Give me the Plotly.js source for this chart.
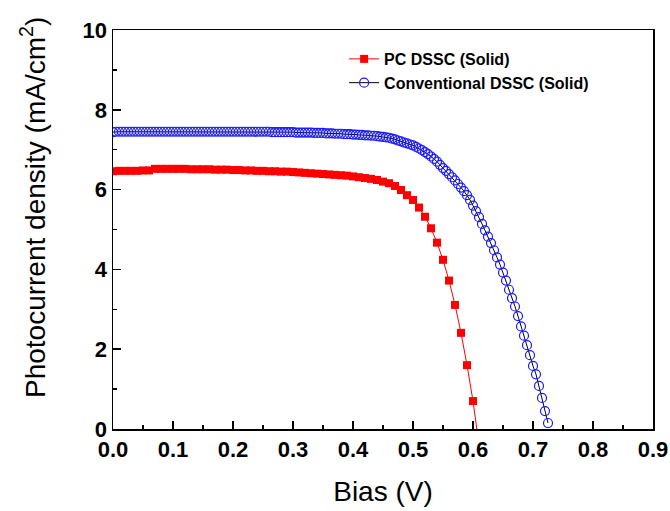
<!DOCTYPE html>
<html>
<head>
<meta charset="utf-8">
<script src="https://cdn.plot.ly/plotly-3.0.1.min.js"></script>
<style>html,body{margin:0;padding:0;background:#fff;}#chart{width:670px;height:511px;}</style>
</head>
<body>
<div id="chart"></div>
<script>
// PC DSSC (Solid): bias (V) and photocurrent density (mA/cm^2)
const pcBias = [0.00,0.01,0.02,0.03,0.04,0.05,0.06,0.07,0.08,0.09,
  0.10,0.11,0.12,0.13,0.14,0.15,0.16,0.17,0.18,0.19,
  0.20,0.21,0.22,0.23,0.24,0.25,0.26,0.27,0.28,0.29,
  0.30,0.31,0.32,0.33,0.34,0.35,0.36,0.37,0.38,0.39,
  0.40,0.41,0.42,0.43,0.44,0.45,0.46,0.47,0.48,0.49,
  0.50,0.51,0.52,0.53,0.54,0.55,0.56,0.57,0.58,0.59,
  0.60,0.61];
const pcCurrent = [6.46,6.47,6.47,6.47,6.47,6.48,6.48,6.52,6.52,6.52,
  6.52,6.52,6.52,6.51,6.51,6.51,6.51,6.50,6.50,6.50,
  6.49,6.49,6.48,6.48,6.47,6.47,6.46,6.46,6.45,6.45,
  6.44,6.43,6.42,6.41,6.40,6.39,6.38,6.37,6.36,6.35,
  6.33,6.31,6.29,6.27,6.24,6.20,6.16,6.09,5.99,5.86,
  5.74,5.55,5.32,5.03,4.67,4.24,3.72,3.11,2.41,1.60,
  0.70,-0.40];

// Conventional DSSC (Solid)
const convBias = [0.000,0.005,0.010,0.015,0.020,0.025,0.030,0.035,0.040,0.045,
  0.050,0.055,0.060,0.065,0.070,0.075,0.080,0.085,0.090,0.095,
  0.100,0.105,0.110,0.115,0.120,0.125,0.130,0.135,0.140,0.145,
  0.150,0.155,0.160,0.165,0.170,0.175,0.180,0.185,0.190,0.195,
  0.200,0.205,0.210,0.215,0.220,0.225,0.230,0.235,0.240,0.245,
  0.250,0.255,0.260,0.265,0.270,0.275,0.280,0.285,0.290,0.295,
  0.300,0.305,0.310,0.315,0.320,0.325,0.330,0.335,0.340,0.345,
  0.350,0.355,0.360,0.365,0.370,0.375,0.380,0.385,0.390,0.395,
  0.400,0.405,0.410,0.415,0.420,0.425,0.430,0.435,0.440,0.445,
  0.450,0.455,0.460,0.465,0.470,0.475,0.480,0.485,0.490,0.495,
  0.500,0.505,0.510,0.515,0.520,0.525,0.530,0.535,0.540,0.545,
  0.550,0.555,0.560,0.565,0.570,0.575,0.580,0.585,0.590,0.595,
  0.600,0.605,0.610,0.615,0.620,0.625,0.630,0.635,0.640,0.645,
  0.650,0.655,0.660,0.665,0.670,0.675,0.680,0.685,0.690,0.695,
  0.700,0.705,0.710,0.715,0.720,0.725];
const convCurrent = [7.44,7.45,7.45,7.45,7.45,7.45,7.45,7.45,7.45,7.45,
  7.45,7.45,7.45,7.45,7.45,7.45,7.45,7.45,7.45,7.45,
  7.45,7.45,7.45,7.45,7.45,7.45,7.45,7.45,7.45,7.45,
  7.45,7.45,7.45,7.45,7.45,7.45,7.45,7.45,7.45,7.45,
  7.45,7.45,7.45,7.45,7.45,7.45,7.45,7.45,7.45,7.45,
  7.45,7.45,7.45,7.44,7.44,7.44,7.44,7.44,7.44,7.44,
  7.44,7.43,7.43,7.43,7.43,7.43,7.43,7.42,7.42,7.42,
  7.42,7.41,7.41,7.41,7.40,7.40,7.40,7.39,7.39,7.39,
  7.38,7.38,7.37,7.37,7.36,7.36,7.35,7.35,7.34,7.33,
  7.32,7.31,7.30,7.28,7.26,7.23,7.21,7.18,7.16,7.13,
  7.11,7.07,7.03,6.99,6.94,6.89,6.83,6.77,6.70,6.62,
  6.54,6.47,6.39,6.31,6.23,6.14,6.05,5.96,5.86,5.74,
  5.60,5.46,5.31,5.14,4.98,4.82,4.66,4.48,4.30,4.12,
  3.92,3.72,3.49,3.28,3.07,2.83,2.57,2.34,2.10,1.85,
  1.58,1.37,1.08,0.78,0.45,0.15];

const seriesNames = ['PC DSSC (Solid)', 'Conventional DSSC (Solid)'];
const xTickVals = [0,0.1,0.2,0.3,0.4,0.5,0.6,0.7,0.8,0.9];
const xTickText = ['0.0','0.1','0.2','0.3','0.4','0.5','0.6','0.7','0.8','0.9'];
const yTickVals = [0,2,4,6,8,10];
const yTickText = ['0','2','4','6','8','10'];
const xTitle = 'Bias (V)';
const yTitle = 'Photocurrent density (mA/cm<sup>2</sup>)';

const FONT = 'Arial, "Liberation Sans", sans-serif';

const traces = [
  {
    x: pcBias, y: pcCurrent, name: seriesNames[0],
    type: 'scatter', mode: 'lines+markers',
    line: {color: '#ff0000', width: 1},
    marker: {symbol: 'square', size: 8, color: '#ff0000', line: {width: 0}}
  },
  {
    x: convBias, y: convCurrent, name: seriesNames[1],
    type: 'scatter', mode: 'lines+markers',
    line: {color: '#000000', width: 1},
    marker: {symbol: 'circle-open', size: 9, color: '#1a1aff', line: {width: 1.2, color: '#1a1aff'}}
  }
];

const axisCommon = {
  showline: true, linecolor: '#000', linewidth: 1.5, mirror: true,
  showgrid: false, zeroline: false,
  ticks: 'inside', ticklen: 8, tickwidth: 1.5, tickcolor: '#000',
  tickfont: {family: FONT, size: 22, color: '#000', weight: 'bold'},
  automargin: false
};

const layout = {
  width: 670, height: 511,
  margin: {l: 113, r: 17, t: 30, b: 82},
  paper_bgcolor: '#fff', plot_bgcolor: '#fff',
  showlegend: true,
  legend: {
    x: 0.428, y: 0.97, xanchor: 'left', yanchor: 'top',
    bgcolor: 'rgba(0,0,0,0)', borderwidth: 0,
    font: {family: FONT, size: 16, color: '#000', weight: 'bold'},
    tracegroupgap: 0
  },
  xaxis: Object.assign({}, axisCommon, {
    range: [0, 0.9],
    tickmode: 'array', tickvals: xTickVals, ticktext: xTickText,
    minor: {dtick: 0.05, tick0: 0, ticks: 'inside', ticklen: 4, tickwidth: 1.5, tickcolor: '#000'},
    title: {text: xTitle, font: {family: FONT, size: 28, color: '#000'}, standoff: 20}
  }),
  yaxis: Object.assign({}, axisCommon, {
    range: [0, 10],
    tickmode: 'array', tickvals: yTickVals, ticktext: yTickText,
    minor: {dtick: 1, tick0: 0, ticks: 'inside', ticklen: 4, tickwidth: 1.5, tickcolor: '#000'}
  }),
  annotations: [{
    text: yTitle, xref: 'paper', yref: 'paper',
    x: -0.148, y: 0.554, xanchor: 'center', yanchor: 'middle',
    textangle: -90, showarrow: false,
    font: {family: FONT, size: 28, color: '#000'}
  }]
};

Plotly.newPlot('chart', traces, layout, {displayModeBar: false, staticPlot: true});
</script>
</body>
</html>
